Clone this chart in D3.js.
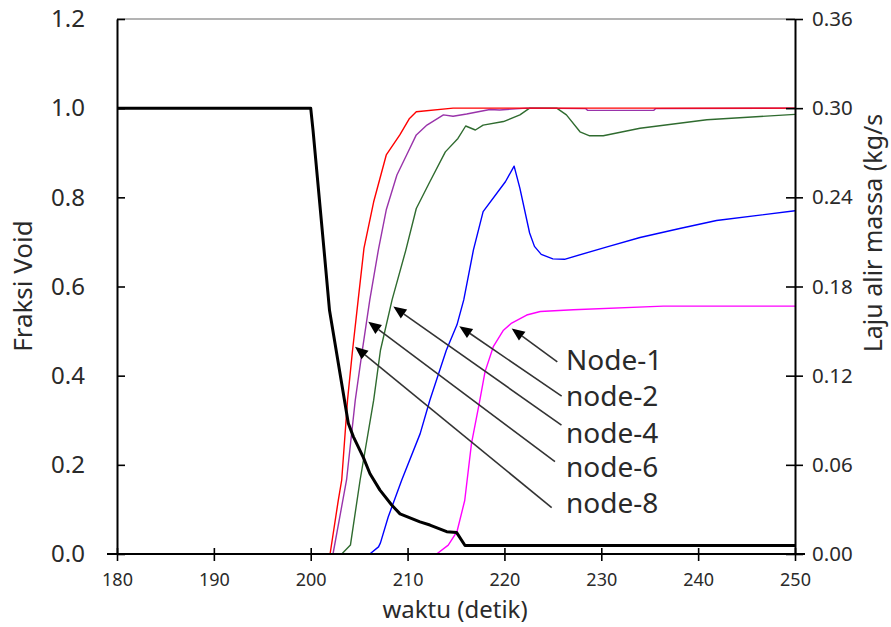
<!DOCTYPE html>
<html><head><meta charset="utf-8">
<script src="https://cdn.jsdelivr.net/npm/d3@7"></script>
<style>html,body{margin:0;padding:0;background:#fff;}svg{display:block;}</style>
</head><body>
<svg id="chart" width="891" height="627"></svg>
<script>
// ---- data ----
const xTicks = [180, 190, 200, 210, 220, 230, 240, 250];
const leftTicks = [0.0, 0.2, 0.4, 0.6, 0.8, 1.0, 1.2];
const rightTicks = [0.00, 0.06, 0.12, 0.18, 0.24, 0.30, 0.36];

// void fraction series [time, value]
const node1 = [[213.0,0],[214.2,0.02],[215.1,0.05],[215.9,0.12],[216.6,0.248],[217.4,0.338],[218.0,0.409],[218.85,0.465],[219.9,0.502],[220.75,0.518],[222.3,0.536],[223.7,0.544],[227.1,0.548],[236.4,0.556],[250,0.556]];
const node2 = [[206.1,0],[207.0,0.016],[207.2,0.025],[208.0,0.083],[209.4,0.166],[211.3,0.27],[212.3,0.345],[214.0,0.457],[215.1,0.514],[215.8,0.57],[216.8,0.682],[217.8,0.768],[220.1,0.835],[221.0,0.87],[221.6,0.82],[222.6,0.72],[223.1,0.69],[223.8,0.672],[225.0,0.662],[226.2,0.661],[230.6,0.689],[234.0,0.71],[238.1,0.73],[241.9,0.748],[250,0.77]];
const node4 = [[203.2,0],[204.1,0.02],[205.1,0.166],[206.5,0.345],[207.2,0.457],[208.4,0.57],[209.8,0.68],[210.9,0.775],[212.3,0.835],[213.9,0.902],[215.2,0.932],[216.0,0.96],[217.0,0.951],[217.8,0.962],[219.9,0.97],[221.6,0.985],[222.6,1.0],[225.4,1.0],[226.4,0.985],[227.8,0.947],[228.8,0.938],[230.2,0.938],[234.0,0.955],[240.9,0.974],[250,0.986]];
const node6 = [[202.3,0],[203.7,0.166],[204.6,0.345],[205.3,0.453],[206.1,0.57],[207.0,0.684],[207.8,0.772],[208.9,0.85],[209.9,0.895],[210.9,0.94],[212.0,0.962],[213.7,0.985],[214.7,0.982],[216.1,0.987],[218.5,0.997],[219.5,0.996],[222.3,1.0],[228.4,0.999],[228.6,0.995],[235.4,0.995],[235.6,0.999],[250,1.0]];
const node8 = [[202.0,0],[202.85,0.121],[203.2,0.166],[203.8,0.345],[204.3,0.453],[204.9,0.57],[205.5,0.686],[206.5,0.79],[207.8,0.895],[209.2,0.94],[210.2,0.977],[210.9,0.992],[214.7,1.0],[250,1.0]];
// mass flow rate [time, kg/s]
const massFlow = [[180,0.3],[200,0.3],[200.24,0.285],[201.37,0.205],[201.94,0.164],[203.88,0.088],[204.4,0.079],[205.43,0.065],[206.12,0.054],[207.15,0.043],[208.36,0.033],[209.22,0.027],[211.28,0.0216],[212.31,0.0195],[214.04,0.015],[215.07,0.0144],[215.93,0.0057],[250,0.0057]];

const seriesNames = ["Node-1","node-2","node-4","node-6","node-8"];
const seriesColors = ["#ff00ff","#0000ff","#2f6b2f","#9933aa","#ff0000"];
// annotation arrows: head on curve [t, v], tail near label [t, v], label anchor [t, v]
const arrowHeads = [[220.75,0.506],[215.34,0.511],[208.53,0.555],[205.94,0.521],[204.57,0.465]];
const arrowTails = [[225.46,0.431],[225.91,0.354],[225.89,0.289],[225.22,0.207],[224.88,0.104]];
const labelPos = [[226.36,0.412],[226.36,0.331],[226.36,0.250],[226.36,0.172],[226.36,0.091]];

// ---- layout ----
const svg = d3.select("#chart");
const X0 = 117, X1 = 795, Y0 = 554, Y1 = 19;
const x = d3.scaleLinear().domain([180,250]).range([X0,X1]);
const yL = d3.scaleLinear().domain([0,1.2]).range([Y0,Y1]);
const yR = d3.scaleLinear().domain([0,0.36]).range([Y0,Y1]);
const font = "'Noto Sans', 'DejaVu Sans', sans-serif";
const txtCol = "#2a2a2a";

// top border (gray)
svg.append("line").attr("x1",X0).attr("x2",X1).attr("y1",Y1).attr("y2",Y1)
  .attr("stroke","#9a9a9a").attr("stroke-width",1.5);

// series
const lineL = d3.line().x(d=>x(d[0])).y(d=>yL(d[1]));
const allSeries = [node1,node2,node4,node6,node8];
allSeries.forEach((s,i)=>{
  svg.append("path").attr("d",lineL(s)).attr("fill","none")
    .attr("stroke",seriesColors[i]).attr("stroke-width",1.4).attr("stroke-linejoin","round");
});
const lineR = d3.line().x(d=>x(d[0])).y(d=>yR(d[1]));
svg.append("path").attr("d",lineR(massFlow)).attr("fill","none")
  .attr("stroke","#000").attr("stroke-width",3).attr("stroke-linejoin","round");

// axes
const axL = svg.append("g").attr("transform",`translate(${X0},0)`)
  .call(d3.axisLeft(yL).tickValues(leftTicks).tickFormat(d3.format(".1f")).tickSizeInner(10).tickSizeOuter(0).tickPadding(22));
axL.selectAll(".tick line").attr("x2",8);
const axR = svg.append("g").attr("transform",`translate(${X1},0)`)
  .call(d3.axisRight(yR).tickValues(rightTicks).tickFormat(d3.format(".2f")).tickSizeInner(8).tickSizeOuter(0).tickPadding(9));
axR.selectAll(".tick line").attr("x1",-9);
const axB = svg.append("g").attr("transform",`translate(0,${Y0})`)
  .call(d3.axisBottom(x).tickValues(xTicks).tickFormat(d3.format("d")).tickSizeInner(7).tickSizeOuter(0).tickPadding(12));
axB.selectAll(".tick line").attr("y1",-6);
[axL,axR,axB].forEach(a=>{
  a.selectAll(".domain").attr("stroke","#000").attr("stroke-width",2);
  a.selectAll(".tick line").attr("stroke","#000").attr("stroke-width",1.6);
  a.selectAll("text").attr("fill",txtCol).style("font-family",font);
});
axL.selectAll("text").style("font-size","24px");
axR.selectAll("text").style("font-size","20.5px");
axB.selectAll("text").style("font-size","18px");
// extend x-axis line past the end ticks
axB.select(".domain").attr("d",`M${X0-10},0H${X1+10}`);

// axis titles
svg.append("text").attr("transform",`translate(32,286) rotate(-90)`)
  .attr("text-anchor","middle").style("font-family",font).style("font-size","26px").attr("fill",txtCol)
  .text("Fraksi Void");
svg.append("text").attr("transform",`translate(882,233) rotate(-90)`)
  .attr("text-anchor","middle").style("font-family",font).style("font-size","25px").attr("fill",txtCol)
  .text("Laju alir massa (kg/s");
svg.append("text").attr("x",455).attr("y",618)
  .attr("text-anchor","middle").style("font-family",font).style("font-size","24px").attr("fill",txtCol)
  .text("waktu (detik)");

// annotations
seriesNames.forEach((name,i)=>{
  const hx = x(arrowHeads[i][0]), hy = yL(arrowHeads[i][1]);
  const tx = x(arrowTails[i][0]), ty = yL(arrowTails[i][1]);
  const ang = Math.atan2(hy-ty, hx-tx);
  const L = 13, W = 5.5;
  const bx = hx - L*Math.cos(ang), by = hy - L*Math.sin(ang);
  svg.append("line").attr("x1",tx).attr("y1",ty).attr("x2",bx).attr("y2",by)
    .attr("stroke","#333").attr("stroke-width",1.6);
  const p = [[hx,hy],[bx - W*Math.sin(ang), by + W*Math.cos(ang)],[bx + W*Math.sin(ang), by - W*Math.cos(ang)]];
  svg.append("polygon").attr("points",p.map(q=>q.join(",")).join(" ")).attr("fill","#000");
  svg.append("text").attr("x",x(labelPos[i][0])).attr("y",yL(labelPos[i][1]))
    .style("font-family",font).style("font-size","28px").attr("fill",txtCol).text(name);
});
</script>
</body></html>
